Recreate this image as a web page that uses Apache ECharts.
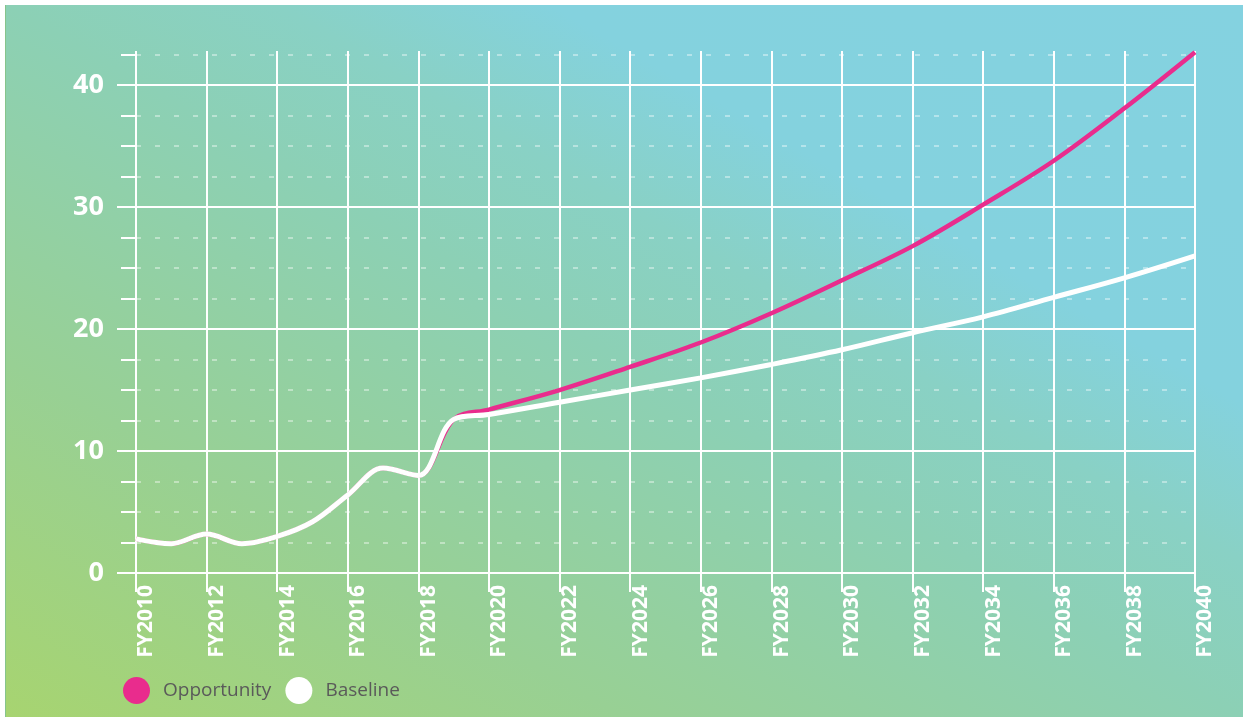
<!DOCTYPE html>
<html>
<head>
<meta charset="utf-8">
<script src="https://cdn.jsdelivr.net/npm/echarts@6/dist/echarts.min.js"></script>
<style>
html,body{margin:0;padding:0;background:#ffffff;}
#chart{width:1243px;height:718px;}
</style>
</head>
<body>
<div id="chart"></div>
<script>
// ---- data ----
var years = [2010, 2011, 2012, 2013, 2014, 2015, 2016, 2017, 2018, 2019,
             2020, 2022, 2024, 2026, 2028, 2030, 2032, 2034, 2036, 2038, 2040];
var baseline = [2.8, 2.4, 3.2, 2.4, 3.0, 4.2, 6.4, 8.6, 8.0, 12.6,
                13.0, 14.0, 15.0, 16.0, 17.1, 18.3, 19.7, 21.0, 22.6, 24.2, 26.0];
var opportunity = [2.8, 2.4, 3.2, 2.4, 3.0, 4.2, 6.4, 8.6, 8.0, 12.6,
                   13.4, 15.0, 16.9, 18.9, 21.3, 24.0, 26.8, 30.2, 33.8, 38.1, 42.7];
var seriesNames = ['Opportunity', 'Baseline'];
var xTickPrefix = 'FY';
var yMajorTicks = [0, 10, 20, 30, 40];
var yMinorTicks = [0, 2.5, 5, 7.5, 10, 12.5, 15, 17.5, 20, 22.5, 25, 27.5, 30, 32.5, 35, 37.5, 40, 42.5];

function pairs(xs, ys) { return xs.map(function (x, i) { return [x, ys[i]]; }); }

var yMax = 42.8;
var majorColors = yMajorTicks.map(function () { return '#ffffff'; }).concat(['rgba(0,0,0,0)']);
var minorColors = yMinorTicks.map(function () { return 'rgba(255,255,255,0.4)'; }).concat(['rgba(0,0,0,0)']);

var chart = echarts.init(document.getElementById('chart'), null, {renderer: 'canvas'});
chart.setOption({
  animation: false,
  backgroundColor: '#ffffff',
  graphic: [{
    type: 'rect', z: -10, silent: true,
    shape: {x: 5, y: 5, width: 1238, height: 712},
    style: {
      fill: new echarts.graphic.LinearGradient(316, 896, 932, -174, [
        {offset: 0, color: '#a7d470'},
        {offset: 0.25, color: '#98d094'},
        {offset: 0.5, color: '#8cd0b5'},
        {offset: 0.61, color: '#89d1c5'},
        {offset: 0.72, color: '#84d2de'},
        {offset: 1, color: '#84d2e0'}
      ], true)
    }
  }, {
    type: 'rect', z: -9, silent: true,
    shape: {x: 5, y: 5, width: 1, height: 712},
    style: {fill: '#86c48c'}
  }],
  grid: {left: 136, right: 48, top: 51, bottom: 145, containLabel: false},
  legend: {
    left: 118, top: 672,
    icon: 'circle', itemWidth: 27, itemHeight: 27, itemGap: 14,
    data: seriesNames,
    textStyle: {color: '#5a5a5a', fontSize: 19, fontFamily: 'Open Sans', padding: [0, 0, 0, 8]}
  },
  xAxis: {
    type: 'value', min: years[0], max: years[years.length - 1], interval: 2,
    axisLine: {show: true, lineStyle: {color: '#ffffff', width: 2}},
    axisTick: {show: true, length: 19, lineStyle: {color: '#ffffff', width: 2}},
    splitLine: {show: true, lineStyle: {color: '#ffffff', width: 2}},
    axisLabel: {
      rotate: 90, margin: 12, verticalAlign: 'top',
      color: '#ffffff', fontSize: 21, fontWeight: 'bold', fontFamily: 'Open Sans',
      formatter: function (v) { return xTickPrefix + v; }
    }
  },
  yAxis: [{
    type: 'value', min: 0, max: yMax, interval: 10,
    axisLine: {show: false},
    axisTick: {show: true, length: 19, customValues: yMajorTicks, lineStyle: {color: '#ffffff', width: 2}},
    splitLine: {show: true, lineStyle: {color: majorColors, width: 2}},
    axisLabel: {
      margin: 32, color: '#ffffff', fontSize: 27, fontWeight: 'bold', fontFamily: 'Open Sans',
      formatter: function (v) { return yMajorTicks.indexOf(v) >= 0 ? String(v) : ''; }
    },
    z: 3
  }, {
    type: 'value', min: 0, max: yMax, interval: 2.5, position: 'left',
    axisLine: {show: false},
    axisTick: {show: true, length: 15, customValues: yMinorTicks, lineStyle: {color: '#ffffff', width: 2}},
    splitLine: {show: true, lineStyle: {color: minorColors, width: 2, type: [5, 14]}},
    axisLabel: {show: false},
    z: 1
  }],
  series: [{
    name: seriesNames[0], type: 'line', yAxisIndex: 0,
    data: pairs(years, opportunity),
    smooth: 0.35, showSymbol: false, symbol: 'none', clip: false,
    itemStyle: {color: '#e92c8d'},
    lineStyle: {color: '#e92c8d', width: 4.5},
    z: 5
  }, {
    name: seriesNames[1], type: 'line', yAxisIndex: 0,
    data: pairs(years, baseline),
    smooth: 0.35, showSymbol: false, symbol: 'none', clip: false,
    itemStyle: {color: '#ffffff'},
    lineStyle: {color: '#ffffff', width: 5},
    z: 6
  }]
});
</script>
</body>
</html>
